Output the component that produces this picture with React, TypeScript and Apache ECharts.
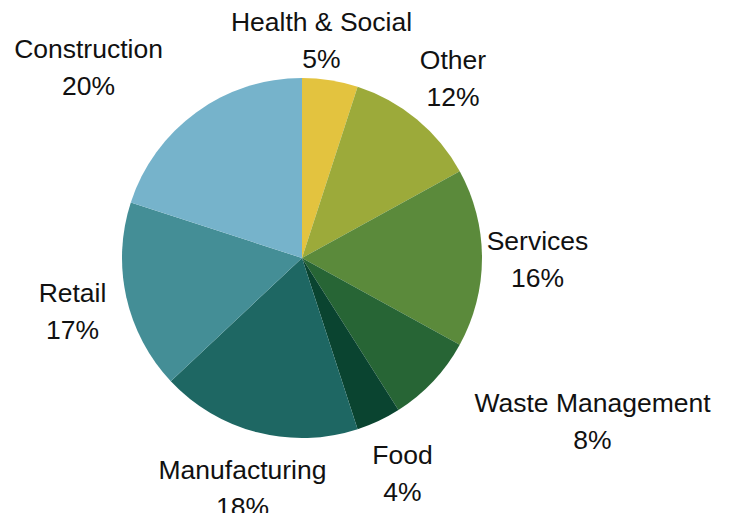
import React, { useEffect, useRef } from "react";
import * as echarts from "echarts";

// ---- data ----
const categories = [
  "Health & Social",
  "Other",
  "Services",
  "Waste Management",
  "Food",
  "Manufacturing",
  "Retail",
  "Construction",
];
const shares = [5, 12, 16, 8, 4, 18, 17, 20];

// ---- styles / layout ----
const colors = [
  "#E3C33F",
  "#9CAA3A",
  "#5B8A3B",
  "#276535",
  "#0A4430",
  "#1E6763",
  "#448E96",
  "#76B3CB",
];
const CX = 302;
const CY = 258;
const RADIUS = 180;
// label centre offsets from the pie centre (reference places labels idiosyncratically)
const labelOffsets: [number, number][] = [
  [19.5, -217.5],
  [151, -179.3],
  [235.5, 1.6],
  [290.5, 163],
  [100.5, 215],
  [-59.5, 230],
  [-229.5, 53.3],
  [-213.5, -190.6],
];

export default function App() {
  const ref = useRef<HTMLDivElement>(null);

  useEffect(() => {
    if (!ref.current) return;
    const chart = echarts.init(ref.current, null, { renderer: "svg" });
    chart.setOption({
      animation: false,
      backgroundColor: "#ffffff",
      series: [
        {
          type: "pie",
          center: [CX, CY],
          radius: RADIUS,
          startAngle: 90,
          clockwise: true,
          avoidLabelOverlap: false,
          emphasis: { disabled: true },
          itemStyle: { borderWidth: 0 },
          labelLine: { show: false },
          label: {
            show: true,
            position: "outside",
            formatter: "{b}\n{c}%",
            fontFamily: "Liberation Sans, Arial, sans-serif",
            fontSize: 26.5,
            lineHeight: 37,
            color: "#111111",
            align: "center",
          },
          labelLayout: (params: any) => {
            const o = labelOffsets[params.dataIndex];
            return {
              x: CX + o[0],
              y: CY + o[1],
              align: "center",
              verticalAlign: "middle",
            };
          },
          data: categories.map((name, i) => ({
            name,
            value: shares[i],
            itemStyle: { color: colors[i] },
          })),
        },
      ],
    });
    return () => chart.dispose();
  }, []);

  return (
    <div
      ref={ref}
      style={{ position: "absolute", left: 0, top: 0, width: 729, height: 513 }}
    />
  );
}
